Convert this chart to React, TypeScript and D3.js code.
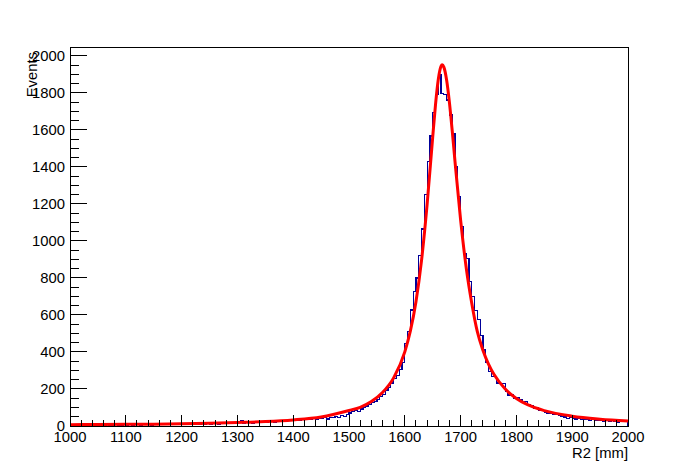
import React from "react";
import * as d3 from "d3";

const binLow = 1000;
const binWidth = 5;
const counts: number[] = [
  3,5,2,4,6,3,5,4,2,6,5,3,4,7,5,3,6,4,5,6,
  5,7,4,6,8,5,6,9,7,5,8,6,7,10,6,8,9,7,8,10,
  9,11,8,10,12,9,11,13,10,12,11,14,12,10,15,13,12,16,14,13,
  17,28,15,19,22,12,24,18,20,23,21,25,27,22,24,26,28,25,30,29,
  30,34,31,36,33,38,35,40,37,42,40,45,38,48,44,52,47,56,50,62,
  70,78,84,80,92,98,108,115,125,131,145,158,170,192,210,232,255,275,305,345,
  445,510,627,726,800,920,1065,1250,1429,1568,1694,1790,1897,1798,1790,1762,1681,
  1580,1400,1240,1080,930,905,780,700,625,575,490,411,345,294,267,267,232,230,228,186,168,168,150,
  152,140,128,131,118,108,96,100,86,84,72,68,70,62,60,58,52,49,42,46,
  40,38,42,35,33,36,31,38,30,29,32,27,29,26,32,24,22,27,28,23,
];

const fitX: number[] = [1000,1050,1100,1150,1200,1250,1300,1350,1400,1450,1500,1520,1540,1560,1580,1600,1610,1620,1630,1640,1650,1655,1660,1665,1667,1670,1675,1680,1685,1690,1700,1710,1720,1730,1740,1750,1760,1780,1800,1820,1850,1900,1950,2000];
const fitY: number[] = [7,8,9,10,12,15,19,24,33,49,84,101,132,181,260,401,514,672,895,1198,1562,1736,1873,1945,1952,1940,1869,1748,1595,1429,1114,857,664,510,410,335,278,200,149,115,83,53,37,27];

const yTicks: number[] = [0,200,400,600,800,1000,1200,1400,1600,1800,2000];
const xTicks: number[] = [1000,1100,1200,1300,1400,1500,1600,1700,1800,1900,2000];
const xTitle = "R2 [mm]";
const yTitle = "Events";

export default function App() {
  const W = 698, H = 474;
  const L = 70, R = 628, T = 47, B = 426;
  const x = d3.scaleLinear().domain([1000, 2000]).range([L, R]);
  const y = d3.scaleLinear().domain([0, 2048.6]).range([B, T]);
  const font = "'Liberation Sans', Arial, Helvetica, sans-serif";

  let hp = `M${x(binLow)},${y(0)}`;
  counts.forEach((c, i) => {
    const x0 = x(binLow + i * binWidth);
    const x1 = x(binLow + (i + 1) * binWidth);
    hp += `L${x0},${y(c)}L${x1},${y(c)}`;
  });
  hp += `L${x(binLow + counts.length * binWidth)},${y(0)}`;

  const fitLine = d3
    .line<number>()
    .x((_, i) => x(fitX[i]))
    .y((d) => y(d))
    .curve(d3.curveMonotoneX);

  const yMinor = d3.range(0, 2049, 50);
  const xMinor = d3.range(1000, 2001, 20);

  return (
    <svg width={W} height={H} style={{ position: "absolute", left: 0, top: 0, background: "#fff" }}>
      <rect x={0} y={0} width={W} height={H} fill="#fff" />
      <defs>
        <clipPath id="frame">
          <rect x={L} y={T} width={R - L} height={B - T} />
        </clipPath>
      </defs>
      <g clipPath="url(#frame)">
        <path d={hp} fill="none" stroke="#000099" strokeWidth={1.2} shapeRendering="crispEdges" />
        <path d={fitLine(fitY) || ""} fill="none" stroke="#ff0000" strokeWidth={3} />
      </g>
      <g shapeRendering="crispEdges">
        <rect x={L} y={T} width={R - L} height={B - T} fill="none" stroke="#000" strokeWidth={1} />
        {yMinor.map((v) => (
          <line key={"ym" + v} x1={L} x2={L + (v % 200 === 0 ? 17 : 9)} y1={y(v)} y2={y(v)} stroke="#000" strokeWidth={1} />
        ))}
        {xMinor.map((v) => (
          <line key={"xm" + v} x1={x(v)} x2={x(v)} y1={B} y2={B - (v % 100 === 0 ? 11 : 6)} stroke="#000" strokeWidth={1} />
        ))}
      </g>
      {yTicks.map((v) => (
        <text key={"yl" + v} x={65} y={y(v) + 5.3} textAnchor="end" fontFamily={font} fontSize={14.8} fill="#000">
          {v}
        </text>
      ))}
      {xTicks.map((v) => (
        <text key={"xl" + v} x={x(v)} y={441.7} textAnchor="middle" fontFamily={font} fontSize={14.8} fill="#000">
          {v}
        </text>
      ))}
      <text x={628} y={458} textAnchor="end" fontFamily={font} fontSize={14.8} fill="#000">
        {xTitle}
      </text>
      <text transform={`translate(36.5,52) rotate(-90)`} textAnchor="end" fontFamily={font} fontSize={14.8} fill="#000">
        {yTitle}
      </text>
    </svg>
  );
}
